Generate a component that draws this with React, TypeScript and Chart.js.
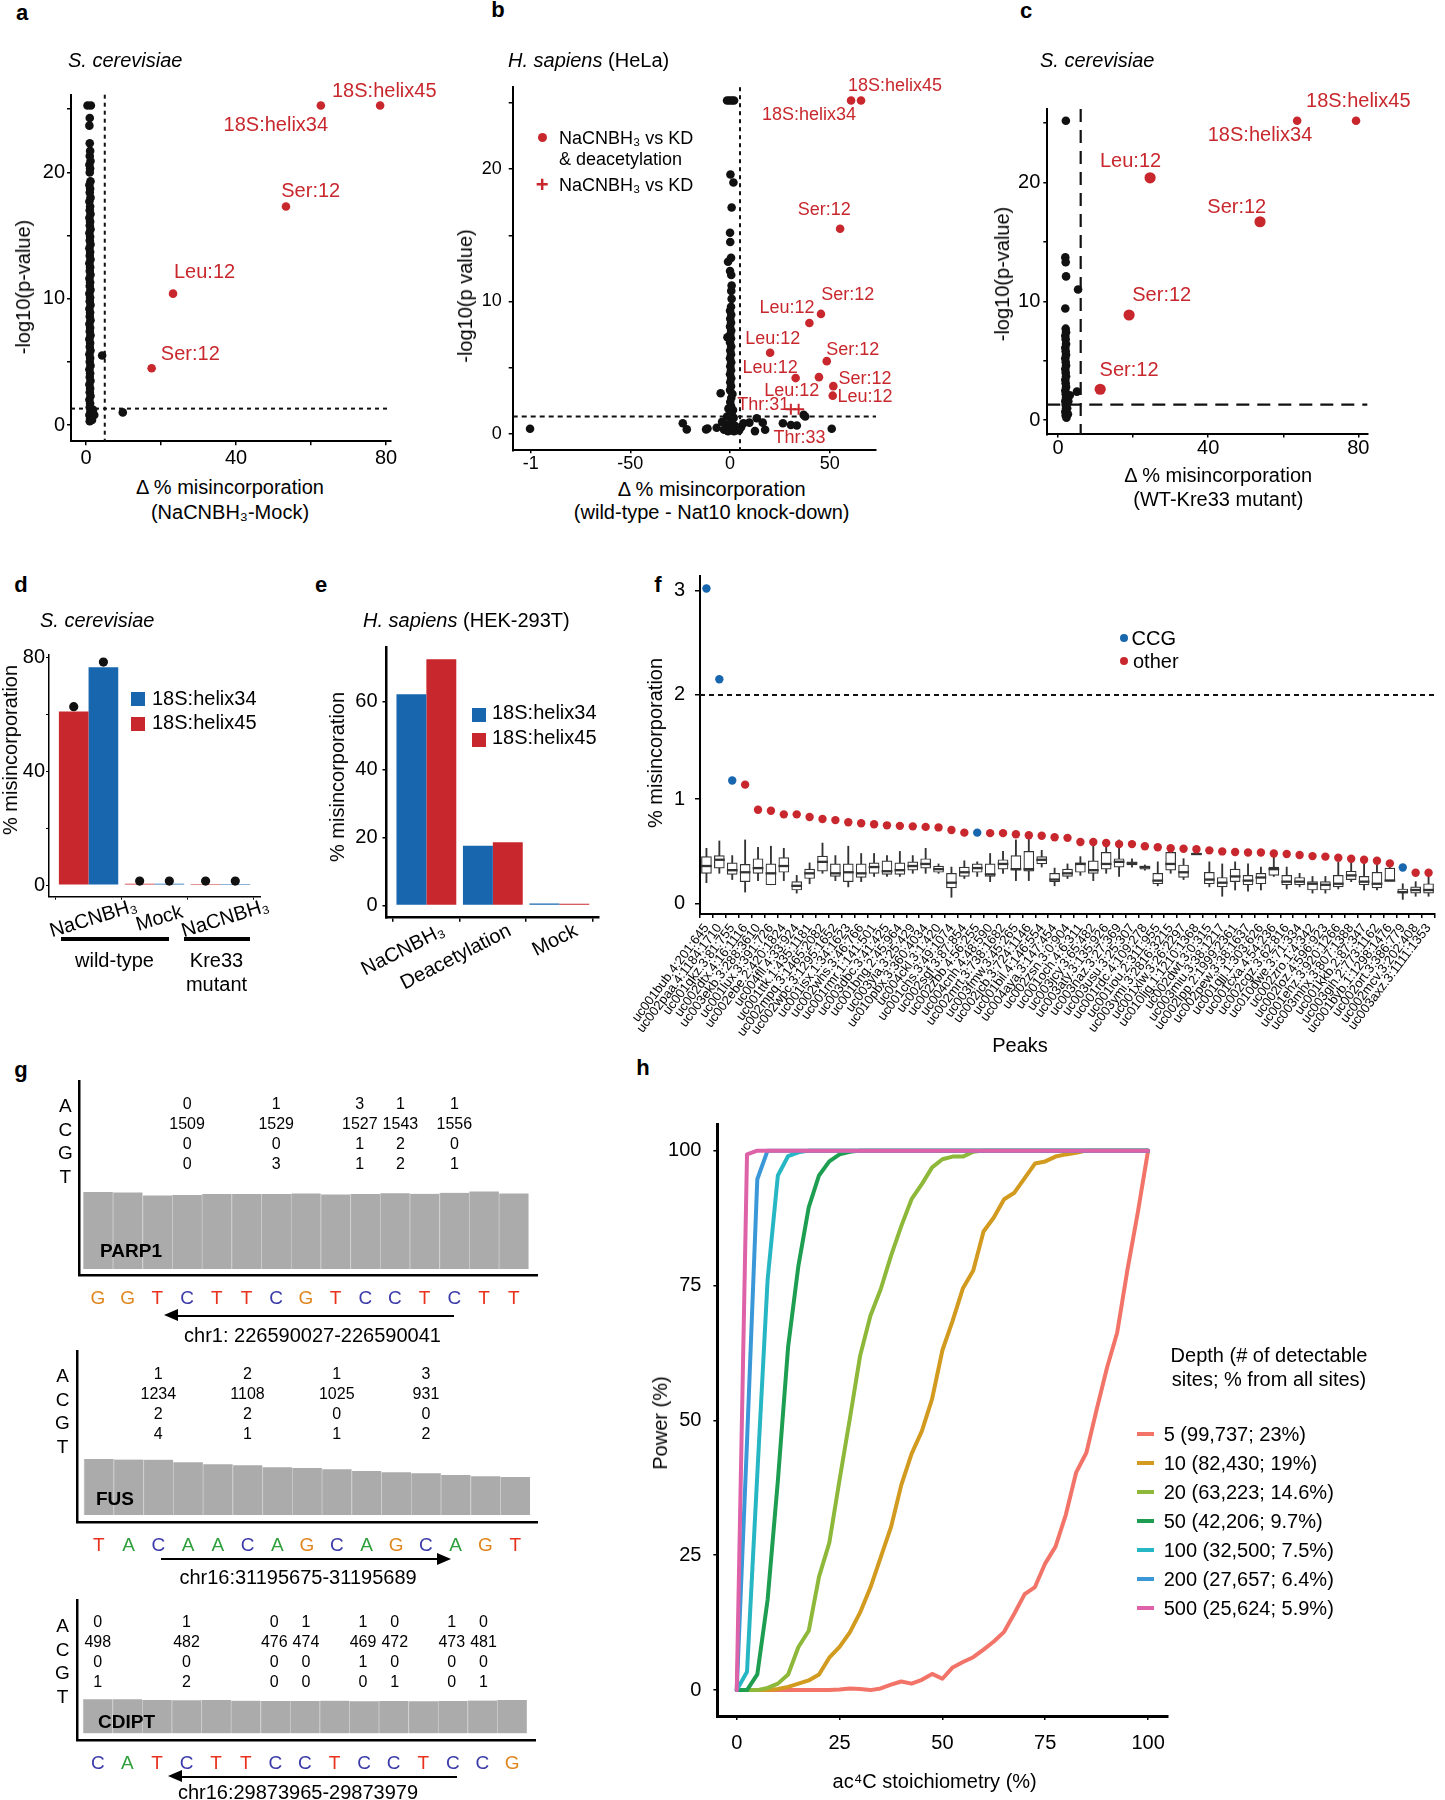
import React, { useEffect, useRef } from 'react';
import { Chart, registerables } from 'chart.js';

Chart.register(...registerables);

const FONT = '"Liberation Sans", Arial, Helvetica, sans-serif';
Chart.defaults.font.family = FONT;
Chart.defaults.color = '#000';

const RED = '#C8282D';
const BLUE = '#1766AE';
const INK = '#111111';

// ================= DATA =================
// ---- panel a (S. cerevisiae, NaCNBH3 - Mock) ----
const aBlack: number[][] = [
  [0.4, 25.3], [1.3, 25.3], [1.0, 24.3], [0.9, 23.7], [1.0, 22.3], [1.1, 21.7], [1.0, 21.3], [1.2, 20.9], [0.9, 20.6],
  [1.1, 20.3], [1.0, 20.0], [1.2, 19.3], [0.9, 19.0], [1.1, 18.7], [1.0, 18.4], [1.2, 18.0], [0.9, 17.7], [1.1, 17.3],
  [1.0, 17.0], [1.2, 16.7], [0.9, 16.4], [1.1, 16.1], [1.0, 15.8], [1.2, 15.5], [0.9, 15.2], [1.1, 14.9], [1.0, 14.6],
  [1.2, 14.3], [0.9, 14.0], [1.1, 13.7], [1.0, 13.4], [1.2, 13.1], [0.9, 12.8], [1.1, 12.5], [1.0, 12.2], [1.2, 11.9],
  [0.9, 11.6], [1.1, 11.3], [1.0, 11.0], [1.2, 10.7], [0.9, 10.4], [1.1, 10.1], [1.0, 9.8], [1.2, 9.5], [0.9, 9.2],
  [1.1, 8.9], [1.0, 8.6], [1.2, 8.3], [0.9, 8.0], [1.1, 7.7], [1.0, 7.4], [1.2, 7.1], [0.9, 6.8], [1.1, 6.5],
  [1.0, 6.2], [1.2, 5.9], [0.9, 5.6], [1.1, 5.3], [1.0, 5.0], [1.2, 4.7], [0.9, 4.4], [1.1, 4.1], [1.0, 3.8],
  [1.2, 3.5], [0.9, 3.2], [1.1, 2.9], [1.0, 2.6], [1.2, 2.3], [0.9, 2.0], [1.1, 1.7], [1.0, 1.4], [1.2, 1.1],
  [0.9, 0.8], [1.1, 0.5], [1.0, 0.3], [1.6, 0.4], [1.8, 0.9], [2.2, 0.8], [1.9, 1.2], [4.3, 5.5], [9.8, 1.0],
];
const aRedX = [78.4, 62.6, 53.3, 23.2, 17.5];
const aRedY = [25.3, 25.3, 17.3, 10.4, 4.5];
const aLabels = ['18S:helix45', '18S:helix34', 'Ser:12', 'Leu:12', 'Ser:12'];
const aLabelX = [79.5, 50.6, 59.9, 31.6, 27.8];
const aLabelY = [26.4, 23.7, 18.5, 12.1, 5.6];
const aCutX = 5;
const aCutY = 1.3;

// ---- panel b (HeLa, wild-type - Nat10 KD) ----
const bBlack: number[][] = [
  [-1.5, 25.2], [-0.3, 25.2], [0.9, 25.2], [2.0, 25.2], [0.2, 19.6], [1.7, 19.0], [0.8, 17.1], [0.0, 15.2], [0.1, 14.5],
  [0.5, 13.3], [-1.0, 13.0], [0.0, 12.3], [0.6, 12.0], [0.8, 11.2], [0.6, 10.8], [0.8, 10.2],
  [0.5, 9.6], [0.0, 9.3], [0.6, 9.0], [0.1, 8.7], [0.5, 8.4], [0.0, 8.1], [0.6, 7.8], [0.1, 7.5], [-1.3, 7.3],
  [0.5, 7.2], [0.0, 6.9], [0.6, 6.6], [0.1, 6.3], [0.5, 6.0], [0.0, 5.7], [0.6, 5.4], [0.1, 5.1], [0.5, 4.8],
  [0.0, 4.5], [0.6, 4.2], [0.1, 3.9], [0.5, 3.6], [0.0, 3.3], [1.2, 3.0], [-4.7, 3.06], [0.6, 2.7], [0.1, 2.4],
  [0.5, 2.1], [-0.8, 1.9], [1.5, 1.8], [0.0, 1.5], [-1.5, 1.3], [1.8, 1.2], [0.6, 0.9], [-2.2, 0.7], [2.5, 0.6],
  [0.0, 0.3], [-3.0, 0.3], [3.5, 0.4], [4.5, 0.25], [-4.0, 0.9], [1.0, 1.4], [5.5, 0.5], [-1.0, 0.2], [2.0, 0.2],
  [-100.3, 0.38], [-23.7, 0.79], [-21.7, 0.33], [-12.0, 0.33], [-11.3, 0.4], [-6.7, 0.45], [6.7, 0.79], [9.7, 0.84],
  [13.4, 1.17], [12.5, 0.2], [16.4, 0.84], [17.6, 0.3], [26.5, 0.79], [30.5, 0.66], [33.5, 0.63], [36.9, 1.43],
  [37.7, 1.3], [51.0, 0.38],
];
const bRedX = [65.7, 60.7, 55.2, 45.6, 39.8, 20.1, 48.5, 32.9, 44.6, 51.8, 51.5];
const bRedY = [25.2, 25.2, 15.5, 9.06, 8.37, 6.12, 5.49, 4.21, 4.28, 3.6, 2.88];
const bPlusX = [30.5, 34.4];
const bPlusY = [1.86, 1.86];
const bLabels = ['18S:helix45', '18S:helix34', 'Ser:12', 'Ser:12', 'Leu:12', 'Leu:12', 'Ser:12', 'Leu:12', 'Ser:12', 'Leu:12', 'Leu:12', 'Thr:31', 'Thr:33'];
const bLabelX = [82.7, 39.6, 47.3, 59.0, 28.6, 21.4, 61.5, 20.1, 67.7, 30.9, 67.7, 16.7, 34.8];
const bLabelY = [26.3, 24.1, 16.9, 10.5, 9.5, 7.15, 6.3, 5.0, 4.16, 3.26, 2.8, 2.17, -0.3];
const bCutX = 5;
const bCutY = 1.3;

// ---- panel c (S. cerevisiae, WT - Kre33 mutant) ----
const cBlack: number[][] = [
  [2.05, 25.2], [1.9, 13.7], [2.0, 13.3], [2.1, 12.1], [1.9, 9.4], [5.3, 11.0], [5.0, 2.4], [3.1, 2.1],
  [2.0, 7.7], [2.1, 7.4], [1.9, 7.1], [2.0, 6.8], [2.1, 6.4], [1.9, 6.1], [2.0, 5.8], [2.1, 5.5], [1.9, 5.2],
  [2.0, 4.9], [2.1, 4.6], [1.9, 4.3], [2.0, 4.0], [2.1, 3.7], [1.9, 3.4], [2.0, 3.1], [2.1, 2.8], [1.9, 2.5],
  [2.0, 2.2], [2.1, 1.9], [1.9, 1.6], [2.0, 1.3], [2.1, 1.0], [1.9, 0.7], [2.0, 0.4], [2.6, 0.5], [2.4, 1.0],
  [2.7, 1.6], [2.2, 0.2],
];
const cHelixX = [79.4, 63.7];
const cHelixY = [25.2, 25.2];
const cSiteX = [24.5, 53.8, 18.9, 11.2];
const cSiteY = [20.4, 16.7, 8.85, 2.6];
const cLabels = ['18S:helix45', '18S:helix34', 'Leu:12', 'Ser:12', 'Ser:12', 'Ser:12'];
const cLabelX = [80.0, 53.8, 19.3, 47.6, 27.6, 18.9];
const cLabelY = [26.8, 24.0, 21.8, 17.9, 10.5, 4.2];
const cCutX = 6;
const cCutY = 1.3;

// ---- panel d ----
const dGroups = ['NaCNBH₃', 'Mock', 'NaCNBH₃'];
const dHelix45 = [61.1, 0.5, 0.4];
const dHelix34 = [76.7, 0.5, 0.4];
const dDots45 = [62.8, 1.4, 1.4];
const dDots34 = [78.5, 1.4, 1.4];

// ---- panel e ----
const eGroups = ['NaCNBH₃', 'Deacetylation', 'Mock'];
const eHelix34 = [62.2, 17.6, 0.6];
const eHelix45 = [72.5, 18.6, 0.5];

// ---- panel f ----
const fPeaks = [
  'uc001bub.4:201:645', 'uc002paa.4:1184:1710', 'uc001qkz.3:81:755', 'uc002dtx.4:16:1116', 'uc003ekb.3:288:3610',
  'uc001lux.3:391:726', 'uc002ebe.2:420:1824', 'uc004fll.4:33:924', 'uc001ttk.1:435:1181', 'uc002mpq.3:1465:2082',
  'uc002wpc.3:1295:1652', 'uc001isx.1:34:1623', 'uc002whs.3:46:766', 'uc001rmr.1:141:501', 'uc003dbc.3:41:425',
  'uc001bng.2:45:964', 'uc003yia.3:25:429', 'uc010pbx.3:360:4034', 'uc004ckl.3:1:420', 'uc001chs.3:49:1074',
  'uc002sgf.3:87:854', 'uc002zbb.4:56:255', 'uc004cnh.4:48:590', 'uc002mrt.3:738:1682', 'uc003fmw.3:45:265',
  'uc002jcb.3:724:1146', 'uc001bil.4:146:554', 'uc004aya.3:147:454', 'uc002zsn.3:0:904', 'uc001och.4:6:311',
  'uc003jcy.3:65:482', 'uc003aty.3:135:926', 'uc003naz.3:27:369', 'uc003usu.3:25:307', 'uc001rdc.4:109:278',
  'uc001iou.2:311:955', 'uc003ymi.3:2816:3215', 'uc001xlw.3:26:2297', 'uc010ljg.1:1210:1368', 'uc002dwt.3:0:315',
  'uc003miu.3:38:1217', 'uc002lpp.2:1999:2361', 'uc002pew.3:38:1637', 'uc001qjj.1:303:626', 'uc001cxa.4:54:236',
  'uc002cgz.3:62:816', 'uc010dwe.3:71:334', 'uc002zro.1:4:342', 'uc002loz.4:596:923', 'uc001ehz.3:920:1266',
  'uc003mhx.3:807:1388', 'uc001kkb.2:87:347', 'uc003gih.2:773:1162', 'uc001byb.1:1298:1476', 'uc002ort.3:386:779',
  'uc002mcv.3:202:408', 'uc003axz.3:1111:1353',
];
const fPct = [
  3.02, 2.15, 1.18, 1.14, 0.90, 0.89, 0.855, 0.855, 0.83, 0.81,
  0.80, 0.78, 0.77, 0.76, 0.75, 0.745, 0.74, 0.735, 0.73, 0.705,
  0.68, 0.68, 0.675, 0.675, 0.665, 0.655, 0.65, 0.635, 0.63, 0.59,
  0.59, 0.58, 0.57, 0.57, 0.55, 0.54, 0.53, 0.525, 0.52, 0.51,
  0.50, 0.495, 0.49, 0.49, 0.48, 0.475, 0.465, 0.455, 0.45, 0.44,
  0.43, 0.42, 0.41, 0.385, 0.346, 0.295, 0.295,
];
const fCCG = [0, 1, 2, 21, 54];
const fLo = [.20, .29, .23, .11, .22, .18, .22, .10, .19, .29, .22, .16, .21, .26, .26, .26, .29, .29, .29, .06, .24, .26, .21, .29, .22, .22, .35, .17, .24, .27, .22, .29, .26, .35, .32, .17, .29, .23, .47, .16, .07, .13, .12, .13, .26, .14, .16, .10, .10, .14, .21, .13, .13, .22, .04, .07, .07];
const fQ1 = [.29, .34, .28, .21, .29, .18, .30, .13, .24, .31, .26, .21, .25, .29, .28, .28, .32, .34, .30, .15, .26, .30, .26, .33, .32, .31, .38, .21, .26, .30, .29, .33, .35, .37, .33, .19, .32, .25, .47, .19, .16, .21, .18, .19, .27, .18, .18, .13, .13, .16, .23, .18, .15, .22, .10, .10, .10];
const fMed = [.36, .42, .32, .30, .34, .29, .36, .17, .29, .40, .29, .30, .29, .35, .31, .32, .36, .38, .33, .20, .30, .34, .28, .38, .33, .33, .42, .23, .29, .38, .32, .38, .40, .385, .35, .22, .38, .30, .475, .23, .20, .26, .22, .25, .33, .21, .21, .19, .18, .19, .27, .21, .19, .22, .11, .13, .13];
const fQ3 = [.45, .46, .39, .375, .43, .38, .44, .21, .33, .455, .38, .38, .38, .39, .41, .39, .40, .43, .36, .29, .35, .38, .38, .42, .46, .50, .45, .29, .33, .39, .41, .49, .43, .40, .36, .29, .49, .37, .48, .30, .25, .33, .27, .29, .35, .27, .25, .21, .21, .27, .31, .26, .30, .34, .14, .16, .19];
const fHi = [.53, .60, .46, .61, .54, .55, .53, .27, .39, .58, .46, .55, .48, .48, .46, .50, .46, .53, .38, .35, .41, .40, .48, .50, .61, .65, .51, .34, .38, .45, .61, .58, .61, .43, .37, .40, .55, .43, .48, .40, .38, .40, .38, .35, .46, .35, .29, .26, .26, .40, .40, .38, .43, .38, .19, .21, .26];
const fCut = 2;

// ---- panel g ----
const parpBases = ['G', 'G', 'T', 'C', 'T', 'T', 'C', 'G', 'T', 'C', 'C', 'T', 'C', 'T', 'T'];
const parpDepth = [1571, 1564, 1503, 1509, 1530, 1530, 1533, 1544, 1523, 1532, 1548, 1537, 1558, 1585, 1544];
const parpCols = [3, 6, 9, 10, 12];
const parpA = [0, 1, 3, 1, 1];
const parpC = [1509, 1529, 1527, 1543, 1556];
const parpG = [0, 0, 1, 2, 0];
const parpT = [0, 3, 1, 2, 1];

const fusBases = ['T', 'A', 'C', 'A', 'A', 'C', 'A', 'G', 'C', 'A', 'G', 'C', 'A', 'G', 'T'];
const fusDepth = [1257, 1242, 1241, 1182, 1137, 1113, 1070, 1055, 1027, 987, 957, 936, 898, 868, 853];
const fusCols = [2, 5, 8, 11];
const fusA = [1, 2, 1, 3];
const fusC = [1234, 1108, 1025, 931];
const fusG = [2, 2, 0, 0];
const fusT = [4, 1, 1, 2];

const cdiptBases = ['C', 'A', 'T', 'C', 'T', 'T', 'C', 'C', 'T', 'C', 'C', 'T', 'C', 'C', 'G'];
const cdiptDepth = [499, 499, 489, 485, 489, 479, 476, 475, 479, 470, 473, 469, 474, 482, 489];
const cdiptCols = [0, 3, 6, 7, 9, 10, 12, 13];
const cdiptA = [0, 1, 0, 1, 1, 0, 1, 0];
const cdiptC = [498, 482, 476, 474, 469, 472, 473, 481];
const cdiptG = [0, 0, 0, 0, 1, 0, 0, 0];
const cdiptT = [1, 2, 0, 0, 0, 1, 0, 1];

// ---- panel h ----
const hX = [0, 2.5, 5, 7.5, 10, 12.5, 15, 17.5, 20, 22.5, 25, 27.5, 30, 32.5, 35, 37.5, 40, 42.5, 45, 47.5, 50, 52.5, 55, 57.5, 60, 62.5, 65, 67.5, 70, 72.5, 75, 77.5, 80, 82.5, 85, 87.5, 90, 92.5, 95, 97.5, 100];
const hD5 = [0, 0, 0, 0, 0, 0, 0, 0, 0, 0, 0.1, 0.3, 0.2, 0, 0.3, 1.0, 1.6, 1.2, 1.9, 3.0, 2.1, 4.2, 5.2, 6.1, 7.5, 9.0, 10.8, 14.2, 17.8, 19.1, 23.5, 26.6, 32.5, 40.3, 44.0, 52.0, 59.7, 66.3, 78.0, 88.5, 100];
const hD10 = [0, 0, 0, 0, 0.2, 0.6, 1.2, 1.8, 2.9, 6.0, 8.0, 10.7, 14.4, 19.0, 24.6, 30.2, 38.0, 43.8, 48.0, 54.0, 63.0, 68.5, 74.5, 77.8, 85.0, 87.6, 91.0, 92.2, 94.9, 97.6, 98.0, 98.9, 99.3, 99.6, 100, 100, 100, 100, 100, 100, 100];
const hD20 = [0, 0, 0, 0.4, 1.2, 2.9, 8.0, 11.0, 21.0, 27.3, 39.0, 50.3, 62.0, 69.4, 74.3, 80.5, 86.0, 91.0, 93.8, 96.9, 98.4, 98.9, 98.9, 99.8, 100, 100, 100, 100, 100, 100, 100, 100, 100, 100, 100, 100, 100, 100, 100, 100, 100];
const hD50 = [0, 0, 2.9, 16.7, 38.8, 63.7, 78.7, 89.5, 95.4, 98.0, 99.3, 99.8, 100, 100, 100, 100, 100, 100, 100, 100, 100, 100, 100, 100, 100, 100, 100, 100, 100, 100, 100, 100, 100, 100, 100, 100, 100, 100, 100, 100, 100];
const hD100 = [0, 3.4, 40.0, 76.0, 95.4, 99.0, 99.7, 100, 100, 100, 100, 100, 100, 100, 100, 100, 100, 100, 100, 100, 100, 100, 100, 100, 100, 100, 100, 100, 100, 100, 100, 100, 100, 100, 100, 100, 100, 100, 100, 100, 100];
const hD200 = [0, 46.0, 94.7, 100, 100, 100, 100, 100, 100, 100, 100, 100, 100, 100, 100, 100, 100, 100, 100, 100, 100, 100, 100, 100, 100, 100, 100, 100, 100, 100, 100, 100, 100, 100, 100, 100, 100, 100, 100, 100, 100];
const hD500 = [0, 99.3, 100, 100, 100, 100, 100, 100, 100, 100, 100, 100, 100, 100, 100, 100, 100, 100, 100, 100, 100, 100, 100, 100, 100, 100, 100, 100, 100, 100, 100, 100, 100, 100, 100, 100, 100, 100, 100, 100, 100];
const hLegend = ['5 (99,737; 23%)', '10 (82,430; 19%)', '20 (63,223; 14.6%)', '50 (42,206; 9.7%)', '100 (32,500; 7.5%)', '200 (27,657; 6.4%)', '500 (25,624; 5.9%)'];
const hColors = ['#F27468', '#D29A1E', '#8DB83A', '#1E9E50', '#27B7C4', '#3B98D8', '#DD62A8'];

// ================= HELPERS =================
type Box = { left: number; top: number; width: number; height: number };
type Rect = { l: number; t: number; r: number; b: number };

function frame(box: Box, area: Rect) {
  const yW = area.l - box.left;
  const xH = box.top + box.height - area.b;
  return {
    layout: { padding: { top: area.t - box.top, right: box.left + box.width - area.r, left: 0, bottom: 0 } },
    xFit: (s: any) => { s.height = xH; s.paddingLeft = 0; s.paddingRight = 0; },
    yFit: (s: any) => { s.width = yW; s.paddingTop = 0; s.paddingBottom = 0; },
  };
}

function linAxis(fit: any, o: any) {
  return {
    type: 'linear',
    min: o.min,
    max: o.max,
    offset: false,
    afterFit: fit,
    ticks: {
      stepSize: o.step, includeBounds: false, autoSkip: false, callback: o.label,
      font: { size: o.size ?? 20, lineHeight: 1 }, color: '#000', padding: o.pad ?? 2,
    },
    grid: { display: true, drawOnChartArea: false, drawTicks: true, tickLength: o.tl ?? 4, color: '#000', lineWidth: o.tw ?? 1.5 },
    border: { display: true, color: '#000', width: o.bw ?? 2 },
  };
}

function baseOptions(layout: any, scales: any) {
  return {
    responsive: false, maintainAspectRatio: false, animation: false, devicePixelRatio: 1, events: [],
    layout, scales, plugins: { legend: { display: false }, tooltip: { enabled: false } },
  };
}

const pts = (xs: number[], ys: number[]) => xs.map((x, i) => ({ x, y: ys[i] }));
const pairs = (p: number[][]) => p.map(([x, y]) => ({ x, y }));

type RefLine = { axis: 'x' | 'y'; value: number; dash: number[]; width: number };
type TextMark = { text: string; x: number; y: number; color: string; size: number };

function labelsOf(texts: string[], xs: number[], ys: number[], color: string, size: number): TextMark[] {
  return texts.map((t, i) => ({ text: t, x: xs[i], y: ys[i], color, size }));
}

function marksPlugin(lines: RefLine[], texts: TextMark[]) {
  return {
    id: 'marks',
    beforeDatasetsDraw(chart: any) {
      const { ctx, chartArea: ca, scales } = chart;
      for (const l of lines) {
        ctx.save();
        ctx.strokeStyle = INK;
        ctx.lineWidth = l.width;
        ctx.setLineDash(l.dash);
        ctx.beginPath();
        if (l.axis === 'x') {
          const p = scales.x.getPixelForValue(l.value);
          ctx.moveTo(p, ca.top); ctx.lineTo(p, ca.bottom);
        } else {
          const p = scales.y.getPixelForValue(l.value);
          ctx.moveTo(ca.left, p); ctx.lineTo(ca.right, p);
        }
        ctx.stroke();
        ctx.restore();
      }
    },
    afterDatasetsDraw(chart: any) {
      const { ctx, scales } = chart;
      for (const t of texts) {
        ctx.save();
        ctx.font = `${t.size}px ${FONT}`;
        ctx.fillStyle = t.color;
        ctx.textAlign = 'center';
        ctx.textBaseline = 'middle';
        ctx.fillText(t.text, scales.x.getPixelForValue(t.x), scales.y.getPixelForValue(t.y));
        ctx.restore();
      }
    },
  };
}

function catLabelPlugin(labels: string[], angle: number, align: string, dx: number, dy: number, size: number) {
  return {
    id: 'catlabels',
    afterDraw(chart: any) {
      const { ctx, chartArea: ca, scales } = chart;
      labels.forEach((lab, i) => {
        const x = scales.x.getPixelForValue(i + 1) + dx;
        ctx.save();
        ctx.translate(x, ca.bottom + dy);
        ctx.rotate((-angle * Math.PI) / 180);
        ctx.font = `${size}px ${FONT}`;
        ctx.fillStyle = '#000';
        ctx.textAlign = align;
        ctx.textBaseline = 'middle';
        ctx.fillText(lab, 0, 0);
        ctx.restore();
      });
    },
  };
}

function countsPlugin(cols: number[], rows: number[][], size: number, top0: number, step: number) {
  return {
    id: 'counts',
    afterDraw(chart: any) {
      const { ctx, chartArea: ca, scales } = chart;
      ctx.save();
      ctx.font = `${size}px ${FONT}`;
      ctx.fillStyle = '#000';
      ctx.textAlign = 'center';
      ctx.textBaseline = 'middle';
      const px = cols.map((c) => scales.x.getPixelForValue(c));
      const widths = cols.map((_, j) => Math.max(...rows.map((r) => ctx.measureText(String(r[j])).width)));
      const adj = px.slice();
      for (let j = 1; j < adj.length; j++) {
        const need = (widths[j - 1] + widths[j]) / 2 + 5;
        const have = adj[j] - adj[j - 1];
        if (have < need) { const d = (need - have) / 2; adj[j - 1] -= d; adj[j] += d; }
      }
      rows.forEach((r, k) => r.forEach((v, j) => ctx.fillText(String(v), adj[j], ca.top + top0 + step * k)));
      ctx.restore();
    },
  };
}

function ChartCanvas({ box, config }: { box: Box; config: () => any }) {
  const ref = useRef<HTMLCanvasElement | null>(null);
  useEffect(() => {
    if (!ref.current) return;
    const chart = new Chart(ref.current, config());
    return () => chart.destroy();
  }, []);
  return (
    <canvas ref={ref} width={box.width} height={box.height}
      style={{ position: 'absolute', left: box.left, top: box.top, width: box.width, height: box.height }} />
  );
}

function Txt({ x, y, s = 20, a = 'c', r = 0, b = false, i = false, c = '#000', children }: any) {
  const tx = a === 'l' ? '0%' : a === 'r' ? '-100%' : '-50%';
  return (
    <div style={{
      position: 'absolute', left: x, top: y, transform: `translate(${tx}, -50%) rotate(${r}deg)`,
      fontSize: s, fontWeight: b ? 700 : 400, fontStyle: i ? 'italic' : 'normal', color: c,
      whiteSpace: 'nowrap', lineHeight: 1, fontFamily: FONT,
    }}>{children}</div>
  );
}

function Arrow({ tail, head, y }: { tail: number; head: number; y: number }) {
  const left = Math.min(tail, head);
  const w = Math.abs(tail - head);
  const toLeft = head < tail;
  const tri: any = {
    position: 'absolute', top: y - 6.5, width: 0, height: 0,
    borderTop: '6.5px solid transparent', borderBottom: '6.5px solid transparent',
  };
  if (toLeft) { tri.left = head; tri.borderRight = '14px solid #000'; } else { tri.left = head - 14; tri.borderLeft = '14px solid #000'; }
  return (
    <>
      <div style={{ position: 'absolute', left: toLeft ? left + 10 : left, top: y - 1, width: w - 10, height: 2, background: '#000' }} />
      <div style={tri} />
    </>
  );
}

// ================= CHART CONFIGS =================
const boxA: Box = { left: 0, top: 70, width: 460, height: 405 };
const areaA: Rect = { l: 71, t: 94.7, r: 391, b: 441.2 };
function cfgA() {
  const f = frame(boxA, areaA);
  return {
    type: 'scatter',
    data: {
      datasets: [
        { data: pts(aRedX, aRedY), pointRadius: 4.3, pointBackgroundColor: RED, pointBorderWidth: 0 },
        { data: pairs(aBlack), pointRadius: 4.3, pointBackgroundColor: INK, pointBorderWidth: 0 },
      ],
    },
    options: baseOptions(f.layout, {
      x: linAxis(f.xFit, { min: -4, max: 81.3, step: 20, label: (v: number) => (v % 40 === 0 ? String(v) : ''), tl: 4, pad: 2.8 }),
      y: linAxis(f.yFit, { min: -1.28, max: 26.15, step: 5, label: (v: number) => (v % 10 === 0 ? String(v) : ''), tl: 4, pad: 2 }),
    }),
    plugins: [marksPlugin(
      [{ axis: 'x', value: aCutX, dash: [4, 4], width: 2 }, { axis: 'y', value: aCutY, dash: [4, 4], width: 2 }],
      labelsOf(aLabels, aLabelX, aLabelY, RED, 20),
    )],
  };
}

const boxB: Box = { left: 478, top: 60, width: 482, height: 415 };
const areaB: Rect = { l: 512.7, t: 87.2, r: 876, b: 450.3 };
function cfgB() {
  const f = frame(boxB, areaB);
  return {
    type: 'scatter',
    data: {
      datasets: [
        { data: pts(bRedX, bRedY), pointRadius: 4.3, pointBackgroundColor: RED, pointBorderWidth: 0 },
        { data: pts(bPlusX, bPlusY), pointStyle: 'cross', pointRadius: 5.5, pointBorderColor: RED, pointBorderWidth: 2 },
        { data: pairs(bBlack), pointRadius: 4.3, pointBackgroundColor: INK, pointBorderWidth: 0 },
      ],
    },
    options: baseOptions(f.layout, {
      x: linAxis(f.xFit, { min: -109, max: 73.2, step: 50, label: (v: number) => (v === -100 ? '-1' : String(v)), tl: 3, pad: 1.5, size: 18 }),
      y: linAxis(f.yFit, { min: -1.25, max: 26.2, step: 5, label: (v: number) => (v % 10 === 0 ? String(v) : ''), tl: 4, pad: 7, size: 18 }),
    }),
    plugins: [marksPlugin(
      [{ axis: 'x', value: bCutX, dash: [4, 4], width: 2 }, { axis: 'y', value: bCutY, dash: [5, 4], width: 2 }],
      labelsOf(bLabels, bLabelX, bLabelY, RED, 18),
    )],
  };
}

const boxC: Box = { left: 1005, top: 70, width: 440, height: 405 };
const areaC: Rect = { l: 1047.3, t: 108.9, r: 1367.3, b: 434.4 };
function cfgC() {
  const f = frame(boxC, areaC);
  return {
    type: 'scatter',
    data: {
      datasets: [
        { data: pts(cHelixX, cHelixY), pointRadius: 4.3, pointBackgroundColor: RED, pointBorderWidth: 0 },
        { data: pts(cSiteX, cSiteY), pointRadius: 5.6, pointBackgroundColor: RED, pointBorderWidth: 0 },
        { data: pairs(cBlack), pointRadius: 4.3, pointBackgroundColor: INK, pointBorderWidth: 0 },
      ],
    },
    options: baseOptions(f.layout, {
      x: linAxis(f.xFit, { min: -2.9, max: 82.4, step: 20, label: (v: number) => (v % 40 === 0 ? String(v) : ''), tl: 3, pad: 0.6 }),
      y: linAxis(f.yFit, { min: -1.2, max: 26.2, step: 5, label: (v: number) => (v % 10 === 0 ? String(v) : ''), tl: 4, pad: 3 }),
    }),
    plugins: [marksPlugin(
      [{ axis: 'x', value: cCutX, dash: [13, 8], width: 2.2 }, { axis: 'y', value: cCutY, dash: [13, 8], width: 2.2 }],
      labelsOf(cLabels, cLabelX, cLabelY, RED, 20),
    )],
  };
}

const CAT_PCT = 0.9;
const DODGE = CAT_PCT / 4;

const boxD: Box = { left: 0, top: 630, width: 275, height: 320 };
const areaD: Rect = { l: 49, t: 655, r: 260, b: 896.7 };
function cfgD() {
  const f = frame(boxD, areaD);
  return {
    type: 'bar',
    data: {
      datasets: [
        { type: 'line', data: dDots45.map((v, i) => ({ x: i + 1 - DODGE, y: v })), showLine: false, pointRadius: 4.6, pointBackgroundColor: INK, pointBorderWidth: 0 },
        { type: 'line', data: dDots34.map((v, i) => ({ x: i + 1 + DODGE, y: v })), showLine: false, pointRadius: 4.6, pointBackgroundColor: INK, pointBorderWidth: 0 },
        { data: dHelix45.map((v, i) => ({ x: i + 1, y: v })), backgroundColor: RED, categoryPercentage: CAT_PCT, barPercentage: 1 },
        { data: dHelix34.map((v, i) => ({ x: i + 1, y: v })), backgroundColor: BLUE, categoryPercentage: CAT_PCT, barPercentage: 1 },
      ],
    },
    options: baseOptions(f.layout, {
      x: linAxis(f.xFit, { min: 0.4, max: 3.6, step: 1, label: () => '', tl: 3, pad: 0, bw: 1.5, tw: 1 }),
      y: linAxis(f.yFit, { min: -4.1, max: 81, step: 20, label: (v: number) => (v % 40 === 0 ? String(v) : ''), tl: 3, pad: 1, bw: 1.5, tw: 1 }),
    }),
    plugins: [catLabelPlugin(dGroups, 17, 'center', 5, 22, 20)],
  };
}

const boxE: Box = { left: 330, top: 630, width: 290, height: 380 };
const areaE: Rect = { l: 386.5, t: 647.3, r: 599.2, b: 917.7 };
function cfgE() {
  const f = frame(boxE, areaE);
  return {
    type: 'bar',
    data: {
      datasets: [
        { data: eHelix34.map((v, i) => ({ x: i + 1, y: v })), backgroundColor: BLUE, categoryPercentage: CAT_PCT, barPercentage: 1 },
        { data: eHelix45.map((v, i) => ({ x: i + 1, y: v })), backgroundColor: RED, categoryPercentage: CAT_PCT, barPercentage: 1 },
      ],
    },
    options: baseOptions(f.layout, {
      x: linAxis(f.xFit, { min: 0.4, max: 3.6, step: 1, label: () => '', tl: 4, pad: 0, bw: 2.5, tw: 1.5 }),
      y: linAxis(f.yFit, { min: -3.6, max: 76, step: 20, label: (v: number) => String(v), tl: 4, pad: 5, bw: 2.5, tw: 1.5 }),
    }),
    plugins: [catLabelPlugin(eGroups, 27, 'right', 17, 12, 20)],
  };
}

const boxF: Box = { left: 600, top: 560, width: 845, height: 520 };
const areaF: Rect = { l: 700, t: 576, r: 1435, b: 914 };
function cfgF() {
  const f = frame(boxF, areaF);
  const dotColors = fPct.map((_, i) => (fCCG.includes(i) ? BLUE : RED));
  const x = linAxis(f.xFit, { tl: 4, pad: 3, size: 13 });
  const xs: any = {
    ...x, type: 'category', offset: true, min: undefined, max: undefined,
    ticks: { autoSkip: false, minRotation: 53, maxRotation: 53, font: { size: 13 }, color: '#000', padding: 3 },
  };
  return {
    type: 'bar',
    data: {
      labels: fPeaks,
      datasets: [
        { type: 'line', data: fPct, showLine: false, pointRadius: 4.2, pointBackgroundColor: dotColors, pointBorderWidth: 0, order: 0 },
        { type: 'bar', data: fMed.map((m) => [m - 0.008, m + 0.008]), backgroundColor: '#333', barThickness: 10, grouped: false, order: 1 },
        { type: 'bar', data: fQ1.map((q, i) => [q, fQ3[i]]), backgroundColor: '#fff', borderColor: '#333', borderWidth: 1.2, borderSkipped: false, barThickness: 10, grouped: false, order: 2 },
        { type: 'bar', data: fLo.map((l, i) => [l, fHi[i]]), backgroundColor: '#333', barThickness: 1.2, grouped: false, order: 3 },
      ],
    },
    options: baseOptions(f.layout, {
      x: xs,
      y: linAxis(f.yFit, { min: -0.1, max: 3.14, step: 1, label: (v: number) => String(v), tl: 5, pad: 10, size: 20 }),
    }),
    plugins: [marksPlugin([{ axis: 'y', value: fCut, dash: [5, 4], width: 2 }], [])],
  };
}

const BASE_COLOR: Record<string, string> = { A: '#2E9E3A', C: '#3A3AA8', G: '#E0861F', T: '#E8321E' };

function trackConfig(box: Box, area: Rect, bases: string[], depth: number[], xr: number[], yr: number[], cols: number[], rows: number[][], top0: number) {
  const f = frame(box, area);
  return () => ({
    type: 'bar',
    data: {
      datasets: [{
        data: depth.map((v, i) => ({ x: i, y: v })), backgroundColor: '#ABABAB', borderColor: '#CBCBCB',
        borderWidth: { left: 1, right: 0, top: 0, bottom: 0 }, borderSkipped: false, categoryPercentage: 1, barPercentage: 1,
      }],
    },
    options: baseOptions(f.layout, {
      x: {
        type: 'linear', min: xr[0], max: xr[1], offset: false, afterFit: f.xFit,
        ticks: {
          stepSize: 1, includeBounds: false, autoSkip: false, padding: 4, font: { size: 19 },
          callback: (v: number) => bases[v] ?? '',
          color: (ctx: any) => BASE_COLOR[bases[ctx.tick?.value]] ?? '#000',
        },
        grid: { display: false },
        border: { display: true, color: '#000', width: 2.5 },
      },
      y: {
        type: 'linear', min: yr[0], max: yr[1], afterFit: f.yFit,
        ticks: { display: false }, grid: { display: false },
        border: { display: true, color: '#000', width: 2.5 },
      },
    }),
    plugins: [countsPlugin(cols, rows, 16, top0, 20)],
  });
}

const boxG1: Box = { left: 40, top: 1075, width: 510, height: 235 };
const boxG2: Box = { left: 40, top: 1345, width: 510, height: 212 };
const boxG3: Box = { left: 40, top: 1593, width: 510, height: 182 };
const cfgG1 = trackConfig(boxG1, { l: 79.3, t: 1081.7, r: 537.5, b: 1275 }, parpBases, parpDepth, [-0.63, 14.8], [-122, 3825], parpCols, [parpA, parpC, parpG, parpT], 23.3);
const cfgG2 = trackConfig(boxG2, { l: 76.8, t: 1351.7, r: 537.5, b: 1522.3 }, fusBases, fusDepth, [-0.74, 14.75], [-164, 3663], fusCols, [fusA, fusC, fusG, fusT], 23.3);
const cfgG3 = trackConfig(boxG3, { l: 76.8, t: 1600, r: 535.7, b: 1740 }, cdiptBases, cdiptDepth, [-0.71, 14.8], [-98, 1956], cdiptCols, [cdiptA, cdiptC, cdiptG, cdiptT], 22.3);

const boxH: Box = { left: 640, top: 1100, width: 560, height: 680 };
const areaH: Rect = { l: 717.4, t: 1124.2, r: 1167.4, b: 1716 };
function cfgH() {
  const f = frame(boxH, areaH);
  const series = [hD5, hD10, hD20, hD50, hD100, hD200, hD500];
  const datasets = series.map((s, k) => ({
    data: pts(hX, s), borderColor: hColors[k], borderWidth: 4, pointRadius: 0, tension: 0, borderJoinStyle: 'round', borderCapStyle: 'round',
  })).reverse();
  return {
    type: 'line',
    data: { datasets },
    options: baseOptions(f.layout, {
      x: linAxis(f.xFit, { min: -4.7, max: 104.7, step: 25, label: (v: number) => String(v), tl: 4, pad: 13.8, bw: 3, tw: 1.5 }),
      y: linAxis(f.yFit, { min: -4.8, max: 104.9, step: 25, label: (v: number) => String(v), tl: 4, pad: 12, bw: 3, tw: 1.5 }),
    }),
  };
}

// ================= APP =================
export default function App() {
  useEffect(() => { document.body.style.margin = '0'; }, []);
  const letter = (ch: string, x: number, y: number) => <Txt x={x} y={y} s={22} b>{ch}</Txt>;
  return (
    <div style={{ position: 'absolute', left: 0, top: 0, width: 1445, height: 1800, background: '#fff', overflow: 'hidden', fontFamily: FONT }}>
      {/* panel letters */}
      {letter('a', 22, 13)}
      {letter('b', 498, 10)}
      {letter('c', 1026, 11)}
      {letter('d', 21, 585)}
      {letter('e', 321, 585)}
      {letter('f', 658, 585)}
      {letter('g', 21, 1070)}
      {letter('h', 643, 1068)}

      {/* ---- a ---- */}
      <ChartCanvas box={boxA} config={cfgA} />
      <Txt x={68} y={60} a="l" i>S. cerevisiae</Txt>
      <Txt x={23.3} y={287.4} r={-90}>-log10(p-value)</Txt>
      <Txt x={230} y={486.8}>Δ % misincorporation</Txt>
      <Txt x={230} y={512.2}>(NaCNBH₃-Mock)</Txt>

      {/* ---- b ---- */}
      <ChartCanvas box={boxB} config={cfgB} />
      <Txt x={508} y={60} a="l"><i>H. sapiens</i> (HeLa)</Txt>
      <Txt x={465} y={295.8} r={-90}>-log10(p value)</Txt>
      <Txt x={711.7} y={488.5}>Δ % misincorporation</Txt>
      <Txt x={711.7} y={512.2}>(wild-type - Nat10 knock-down)</Txt>
      <div style={{ position: 'absolute', left: 537.8, top: 133.1, width: 9, height: 9, borderRadius: '50%', background: RED }} />
      <Txt x={559} y={137.6} a="l" s={18}>NaCNBH₃ vs KD</Txt>
      <Txt x={559} y={158.9} a="l" s={18}>&amp; deacetylation</Txt>
      <Txt x={542.3} y={184.5} s={22} c={RED} b>+</Txt>
      <Txt x={559} y={185.3} a="l" s={18}>NaCNBH₃ vs KD</Txt>

      {/* ---- c ---- */}
      <ChartCanvas box={boxC} config={cfgC} />
      <Txt x={1040} y={60} a="l" i>S. cerevisiae</Txt>
      <Txt x={1001.7} y={273.8} r={-90}>-log10(p-value)</Txt>
      <Txt x={1218.3} y={475}>Δ % misincorporation</Txt>
      <Txt x={1218.3} y={498.6}>(WT-Kre33 mutant)</Txt>

      {/* ---- d ---- */}
      <ChartCanvas box={boxD} config={cfgD} />
      <Txt x={40} y={620} a="l" i>S. cerevisiae</Txt>
      <Txt x={9.5} y={750} r={-90}>% misincorporation</Txt>
      <div style={{ position: 'absolute', left: 131, top: 691.5, width: 14, height: 14, background: BLUE }} />
      <div style={{ position: 'absolute', left: 131, top: 716.5, width: 14, height: 14, background: RED }} />
      <Txt x={152} y={698} a="l">18S:helix34</Txt>
      <Txt x={152} y={722} a="l">18S:helix45</Txt>
      <div style={{ position: 'absolute', left: 61, top: 937, width: 108, height: 3.5, background: '#000' }} />
      <div style={{ position: 'absolute', left: 184, top: 937, width: 66, height: 3.5, background: '#000' }} />
      <Txt x={114.5} y={960}>wild-type</Txt>
      <Txt x={216.5} y={960}>Kre33</Txt>
      <Txt x={216.5} y={983.5}>mutant</Txt>

      {/* ---- e ---- */}
      <ChartCanvas box={boxE} config={cfgE} />
      <Txt x={363} y={620} a="l"><i>H. sapiens</i> (HEK-293T)</Txt>
      <Txt x={337} y={777} r={-90}>% misincorporation</Txt>
      <div style={{ position: 'absolute', left: 471.5, top: 708, width: 14, height: 14, background: BLUE }} />
      <div style={{ position: 'absolute', left: 471.5, top: 733, width: 14, height: 14, background: RED }} />
      <Txt x={492} y={712} a="l">18S:helix34</Txt>
      <Txt x={492} y={737} a="l">18S:helix45</Txt>

      {/* ---- f ---- */}
      <ChartCanvas box={boxF} config={cfgF} />
      <Txt x={655} y={742.5} r={-90}>% misincorporation</Txt>
      <Txt x={1020} y={1045}>Peaks</Txt>
      <div style={{ position: 'absolute', left: 1120, top: 634.3, width: 8, height: 8, borderRadius: '50%', background: BLUE }} />
      <div style={{ position: 'absolute', left: 1120, top: 657, width: 8, height: 8, borderRadius: '50%', background: RED }} />
      <Txt x={1131.5} y={638.3} a="l">CCG</Txt>
      <Txt x={1133} y={661} a="l">other</Txt>

      {/* ---- g ---- */}
      <ChartCanvas box={boxG1} config={cfgG1} />
      <ChartCanvas box={boxG2} config={cfgG2} />
      <ChartCanvas box={boxG3} config={cfgG3} />
      {['A', 'C', 'G', 'T'].map((ch, k) => <Txt key={'p' + ch} x={65.4} y={1105 + 23.6 * k} s={19}>{ch}</Txt>)}
      {['A', 'C', 'G', 'T'].map((ch, k) => <Txt key={'f' + ch} x={62.5} y={1375 + 23.6 * k} s={19}>{ch}</Txt>)}
      {['A', 'C', 'G', 'T'].map((ch, k) => <Txt key={'c' + ch} x={62.5} y={1625 + 23.6 * k} s={19}>{ch}</Txt>)}
      <Txt x={100} y={1250} a="l" s={19} b>PARP1</Txt>
      <Txt x={96} y={1497.7} a="l" s={19} b>FUS</Txt>
      <Txt x={98} y={1720.7} a="l" s={19} b>CDIPT</Txt>
      <Arrow tail={453.6} head={164.3} y={1315.7} />
      <Arrow tail={160.7} head={450.7} y={1559.3} />
      <Arrow tail={457} head={168} y={1776.7} />
      <Txt x={312.5} y={1335}>chr1: 226590027-226590041</Txt>
      <Txt x={298} y={1576.7}>chr16:31195675-31195689</Txt>
      <Txt x={298} y={1791.7}>chr16:29873965-29873979</Txt>

      {/* ---- h ---- */}
      <ChartCanvas box={boxH} config={cfgH} />
      <Txt x={659.5} y={1423} r={-90}>Power (%)</Txt>
      <Txt x={934.7} y={1780.6}>ac⁴C stoichiometry (%)</Txt>
      <Txt x={1269} y={1354.8}>Depth (# of detectable</Txt>
      <Txt x={1269} y={1378.7}>sites; % from all sites)</Txt>
      {hLegend.map((lab, k) => (
        <React.Fragment key={lab}>
          <div style={{ position: 'absolute', left: 1137, top: 1433.7 + 29.1 * k - 2, width: 17, height: 4, background: hColors[k] }} />
          <Txt x={1163.7} y={1433.7 + 29.1 * k} a="l">{lab}</Txt>
        </React.Fragment>
      ))}
    </div>
  );
}
